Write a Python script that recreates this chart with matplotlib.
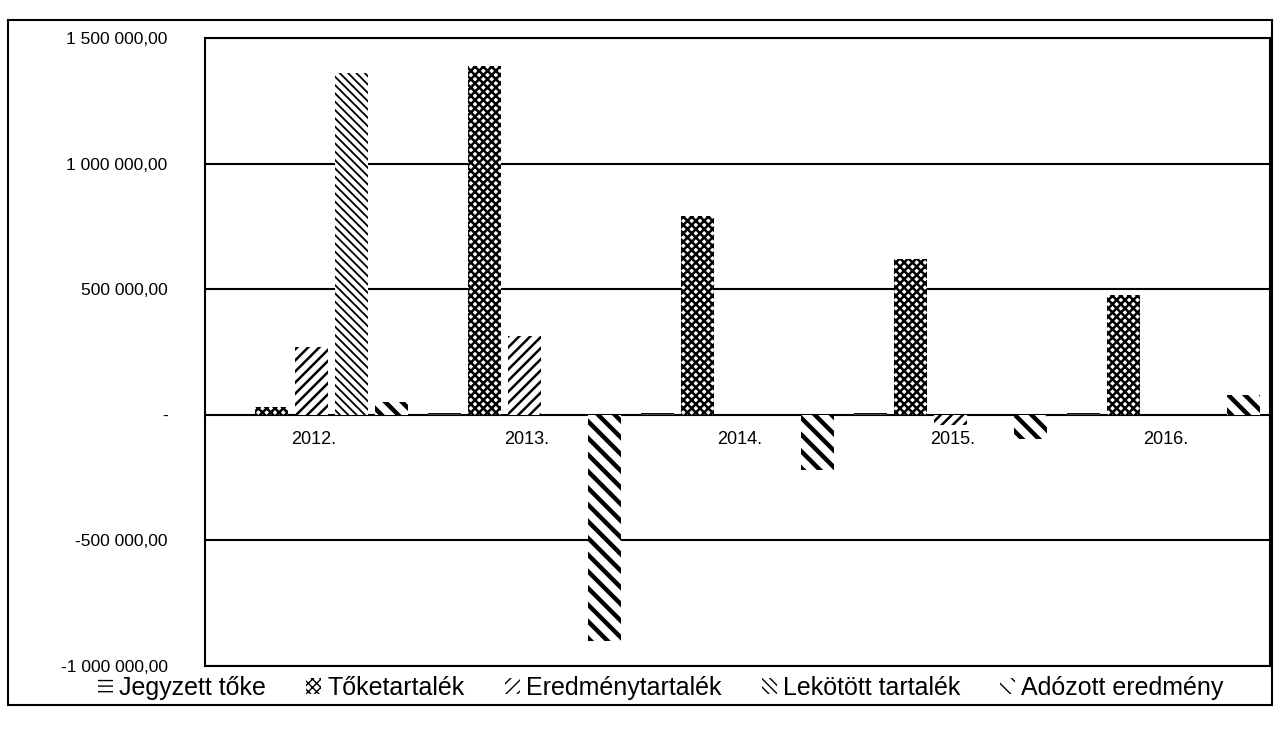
import matplotlib
matplotlib.use("Agg")
import matplotlib.pyplot as plt
import numpy as np
from matplotlib import font_manager
from matplotlib.patches import Rectangle
from matplotlib.ticker import FuncFormatter

############ Adatok ##############
evek = ["2012.", "2013.", "2014.", "2015.", "2016."]
jegyzett_toke = [0, 20000, 15000, 20000, 15000]
toketartalek = [30000, 1390000, 790000, 620000, 475000]
eredmenytartalek = [270000, 315000, 0, -40000, 0]
lekotott_tartalek = [1360000, 0, 0, 0, 0]
adozott_eredmeny = [50000, -900000, -220000, -95000, 80000]

sorozatok = ["Jegyzett tőke", "Tőketartalék", "Eredménytartalék",
             "Lekötött tartalék", "Adózott eredmény"]
ertekek = [jegyzett_toke, toketartalek, eredmenytartalek,
           lekotott_tartalek, adozott_eredmeny]
mintak = ["---", "xxxx", "///", "\\\\\\\\", "\\\\"]
vastagsag = [1.2, 1.8, 1.8, 1.3, 3.2]

nevek = {f.name for f in font_manager.fontManager.ttflist}
betu = "Liberation Sans Narrow" if "Liberation Sans Narrow" in nevek else "Liberation Sans"
plt.rcParams["font.family"] = [betu, "DejaVu Sans"]


def formaz(v, pos):
    if abs(v) < 1:
        return "-"
    s = "{:,.2f}".format(v)
    return s.replace(",", " ").replace(".", ",")


fig = plt.figure(figsize=(12.76, 7.33), dpi=100)
ax = fig.add_axes([0.1607, 0.0914, 0.8346, 0.8568])

x = np.arange(len(evek))
lepes = 0.188
szel = 0.155
for k, (nev, v) in enumerate(zip(sorozatok, ertekek)):
    with plt.rc_context({"hatch.linewidth": vastagsag[k]}):
        ax.bar(x + (k - 2) * lepes, v, szel, color="white", edgecolor="black",
               linewidth=0, hatch=mintak[k], label=nev)

ax.set_xlim(-0.5, 4.5)
ax.set_ylim(-1000000, 1500000)
ax.set_yticks(np.arange(-1000000, 1500001, 500000))
ax.yaxis.set_major_formatter(FuncFormatter(formaz))
ax.tick_params(axis="y", length=0, pad=27, labelsize=12.5)
ax.set_xticks([])
ax.yaxis.grid(True, color="black", linewidth=1.5)
ax.set_axisbelow(True)
for sp in ax.spines.values():
    sp.set_color("black")
    sp.set_linewidth(1.5)

for i, ev in enumerate(evek):
    ax.annotate(ev, (i + 0.01, 0), xytext=(0, -18), textcoords="offset points",
                ha="center", va="center", fontsize=13)

fig.legend(loc="center", bbox_to_anchor=(0.518, 0.062), ncol=5, frameon=False,
           fontsize=18, handlelength=0.6, handleheight=0.6, handletextpad=0.25,
           columnspacing=1.6, borderpad=0.1)

fig.patches.append(Rectangle((0.0063, 0.038), 0.9906, 0.9347, transform=fig.transFigure,
                             fill=False, edgecolor="black", linewidth=1.5))

fig.savefig("out.png", dpi=100)
